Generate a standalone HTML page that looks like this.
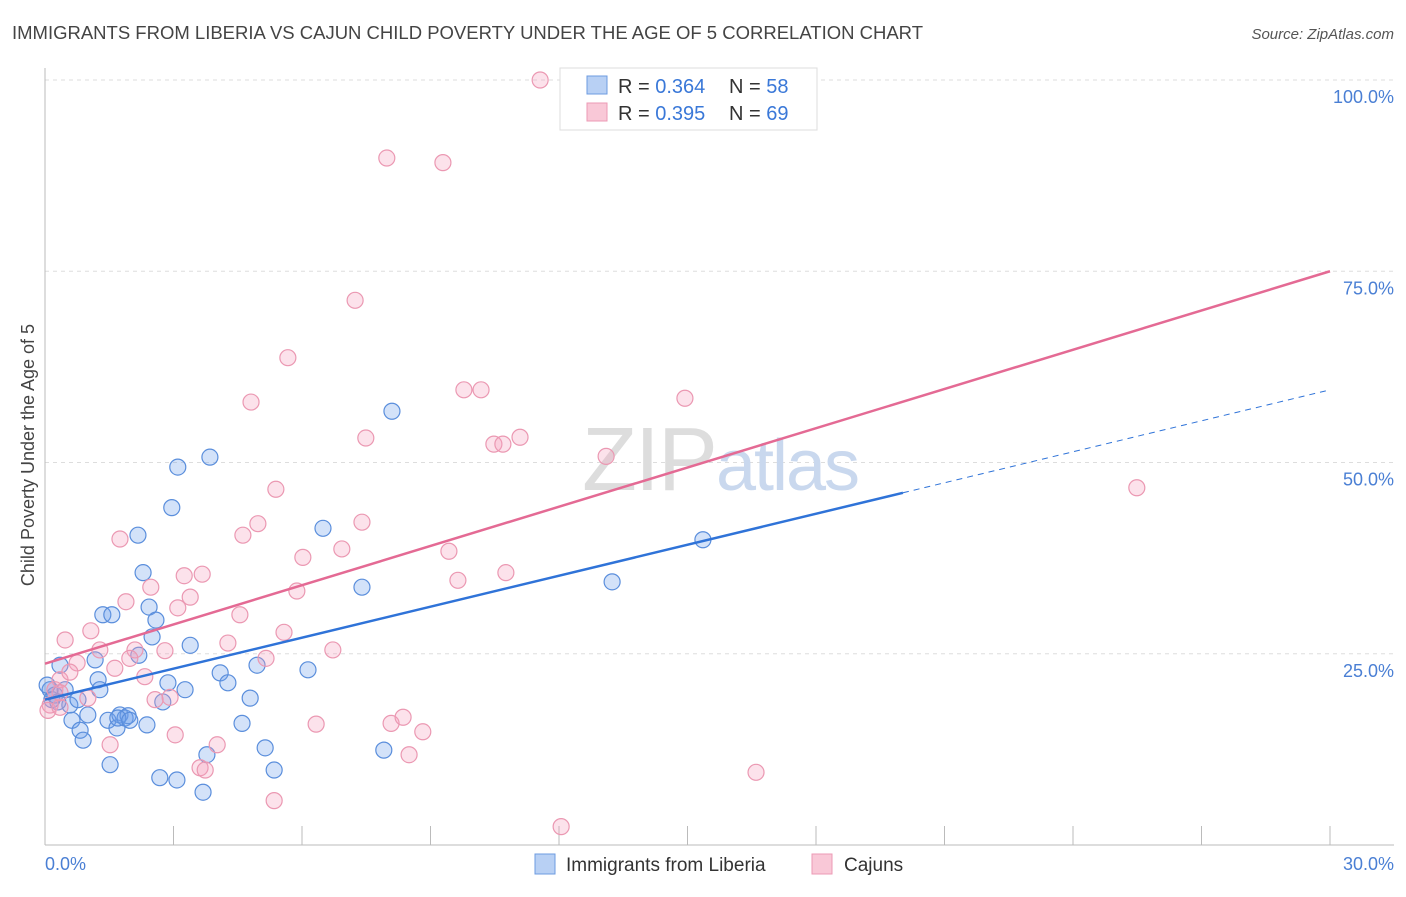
<!DOCTYPE html>
<html><head><meta charset="utf-8"><style>
body{margin:0;background:#fff;font-family:"Liberation Sans",sans-serif;}
svg text{font-family:"Liberation Sans",sans-serif;}
</style></head><body>
<svg id="chart" width="1406" height="892" viewBox="0 0 1406 892" xmlns="http://www.w3.org/2000/svg">
<text x="12" y="39" font-size="18.5" fill="#444" textLength="911">IMMIGRANTS FROM LIBERIA VS CAJUN CHILD POVERTY UNDER THE AGE OF 5 CORRELATION CHART</text>
<text x="1394" y="39" font-size="15" fill="#555" text-anchor="end" font-style="italic">Source: ZipAtlas.com</text>
<g id="grid"></g>
<text x="720" y="490" font-size="90" fill="#ddd" text-anchor="middle" font-family="Liberation Serif" letter-spacing="-2">ZIP<tspan fill="#c9d8ee" font-family="Liberation Sans" font-size="72">atlas</tspan></text>
<g id="marks"></g>
<text transform="translate(34,455) rotate(-90)" font-size="18" fill="#444" text-anchor="middle">Child Poverty Under the Age of 5</text>
<text x="45" y="870" font-size="18" fill="#4a7fd4">0.0%</text>
<text x="1394" y="870" font-size="18" fill="#4a7fd4" text-anchor="end">30.0%</text>
<g>
<rect x="560" y="68" width="257" height="62" fill="#fff" stroke="#ddd"/>
<rect x="587" y="76" width="20" height="18" fill="#b8d0f4" stroke="#6d9be0"/>
<rect x="587" y="103" width="20" height="18" fill="#f9c8d7" stroke="#ec9ab4"/>
<text x="618" y="93" font-size="20" fill="#333">R = <tspan fill="#3a78d8">0.364</tspan><tspan x="729">N = </tspan><tspan fill="#3a78d8">58</tspan></text>
<text x="618" y="120" font-size="20" fill="#333">R = <tspan fill="#3a78d8">0.395</tspan><tspan x="729">N = </tspan><tspan fill="#3a78d8">69</tspan></text>
</g>
<g>
<rect x="535" y="854" width="20" height="20" fill="#b8d0f4" stroke="#6d9be0"/>
<text x="566" y="871" font-size="19" fill="#333">Immigrants from Liberia</text>
<rect x="812" y="854" width="20" height="20" fill="#f9c8d7" stroke="#ec9ab4"/>
<text x="844" y="871" font-size="19" fill="#333">Cajuns</text>
</g>
</svg>
<script>
const yTicks=[25,50,75,100];
const yTickLabels=["25.0%","50.0%","75.0%","100.0%"];
const xTicks=[0,3,6,9,12,15,18,21,24,27,30];
const blueX=[0.12,0.16,0.23,0.35,0.47,0.58,0.63,0.77,0.82,0.89,1.00,1.17,1.24,1.35,1.47,1.52,1.56,1.68,1.75,1.87,1.94,2.17,2.19,2.29,2.38,2.43,2.50,2.59,2.68,2.75,2.87,2.96,3.08,3.10,3.27,3.39,3.69,3.78,3.85,4.09,4.27,4.60,4.79,4.95,5.14,5.35,6.14,6.49,7.40,7.91,8.10,13.24,15.36,0.05,0.30,1.28,1.70,1.98];
const blueY=[20.3,19.0,19.6,23.5,20.3,18.3,16.3,19.0,15.0,13.7,17.0,24.2,21.6,30.1,16.3,10.5,30.1,15.3,17.0,16.6,16.9,40.5,24.8,35.6,15.7,31.1,27.2,29.4,8.8,18.7,21.2,44.1,8.5,49.4,20.3,26.1,6.9,11.8,50.7,22.5,21.2,15.9,19.2,23.5,12.7,9.8,22.9,41.4,33.7,12.4,56.7,34.4,39.9,20.9,18.7,20.3,16.6,16.3];
const pinkX=[11.56,7.98,9.29,7.24,5.67,4.81,9.78,10.18,14.94,7.49,10.48,10.69,11.09,13.10,25.49,5.39,4.97,7.40,4.62,1.75,6.02,6.93,9.43,9.64,10.76,3.25,3.67,2.47,3.39,1.89,3.10,4.55,5.88,1.07,0.47,1.28,2.10,2.80,4.27,5.58,6.72,1.98,0.75,1.63,5.16,0.35,0.23,0.58,2.33,1.00,2.92,2.57,0.12,0.07,0.35,1.52,3.04,4.02,3.62,3.74,6.33,8.08,8.36,8.82,8.50,5.35,16.60,12.05,0.35];
const pinkY=[100,89.8,89.2,71.2,63.7,57.9,59.5,59.5,58.4,53.2,52.4,52.4,53.3,50.8,46.7,46.5,42.0,42.2,40.5,40.0,37.6,38.7,38.4,34.6,35.6,35.2,35.4,33.7,32.4,31.8,31.0,30.1,33.2,28.0,26.8,25.5,25.5,25.4,26.4,27.8,25.5,24.4,23.8,23.1,24.4,21.6,20.3,22.6,22.0,19.2,19.3,19.0,18.3,17.6,18.0,13.1,14.4,13.1,10.1,9.8,15.8,15.9,16.7,14.8,11.8,5.8,9.5,2.4,19.9];
const blueFit=[19.0,1.35];
const blueSolidEnd=20.03;
const pinkFit=[23.7,1.71];
const NS="http://www.w3.org/2000/svg";
function sx(v){return 45+v/30*1285;}
function sy(v){return 845-v/100*765;}
function mk(tag,attrs,parent){const e=document.createElementNS(NS,tag);for(const k in attrs)e.setAttribute(k,attrs[k]);parent.appendChild(e);return e;}
const grid=document.getElementById('grid'),marks=document.getElementById('marks');
yTicks.forEach((t,i)=>{
  const l=mk('line',{x1:45,x2:1394,y1:sy(t),y2:sy(t),stroke:'#ddd','stroke-dasharray':'4,4'},grid);
  
  
  const tx=mk('text',{x:1394,y:sy(t)+23,'font-size':18,fill:'#4a7fd4','text-anchor':'end'},grid);
  tx.textContent=yTickLabels[i];
  
  
});
const ax=mk('line',{x1:45,x2:45,y1:68,y2:845,stroke:'#bbb'},grid);


const bx=mk('line',{x1:45,x2:1394,y1:845,y2:845,stroke:'#bbb'},grid);


xTicks.forEach(t=>{
  const l=mk('line',{x1:sx(t),x2:sx(t),y1:826,y2:845,stroke:'#bbb'},grid);
  
  
});
function pts(X,Y,fill,stroke,name){
  X.forEach((x,i)=>{
    const c=mk('circle',{cx:sx(x),cy:sy(Y[i]),r:8,fill:fill,stroke:stroke,'stroke-width':1.2},marks);
    
    
  });
}
pts(blueX,blueY,'rgba(110,160,235,0.3)','#5a8edc','liberia-point');
pts(pinkX,pinkY,'rgba(245,160,190,0.3)','#eb98b2','cajun-point');
const b1=mk('line',{x1:sx(0),y1:sy(blueFit[0]),x2:sx(blueSolidEnd),y2:sy(blueFit[0]+blueFit[1]*blueSolidEnd),stroke:'#2f73d8','stroke-width':2.5},marks);


const b2=mk('line',{x1:sx(blueSolidEnd),y1:sy(blueFit[0]+blueFit[1]*blueSolidEnd),x2:sx(30),y2:sy(blueFit[0]+blueFit[1]*30),stroke:'#2f73d8','stroke-width':1,'stroke-dasharray':'6,5'},marks);


const p1=mk('line',{x1:sx(0),y1:sy(pinkFit[0]),x2:sx(30),y2:sy(pinkFit[0]+pinkFit[1]*30),stroke:'#e46a94','stroke-width':2.5},marks);


</script>
</body></html>
